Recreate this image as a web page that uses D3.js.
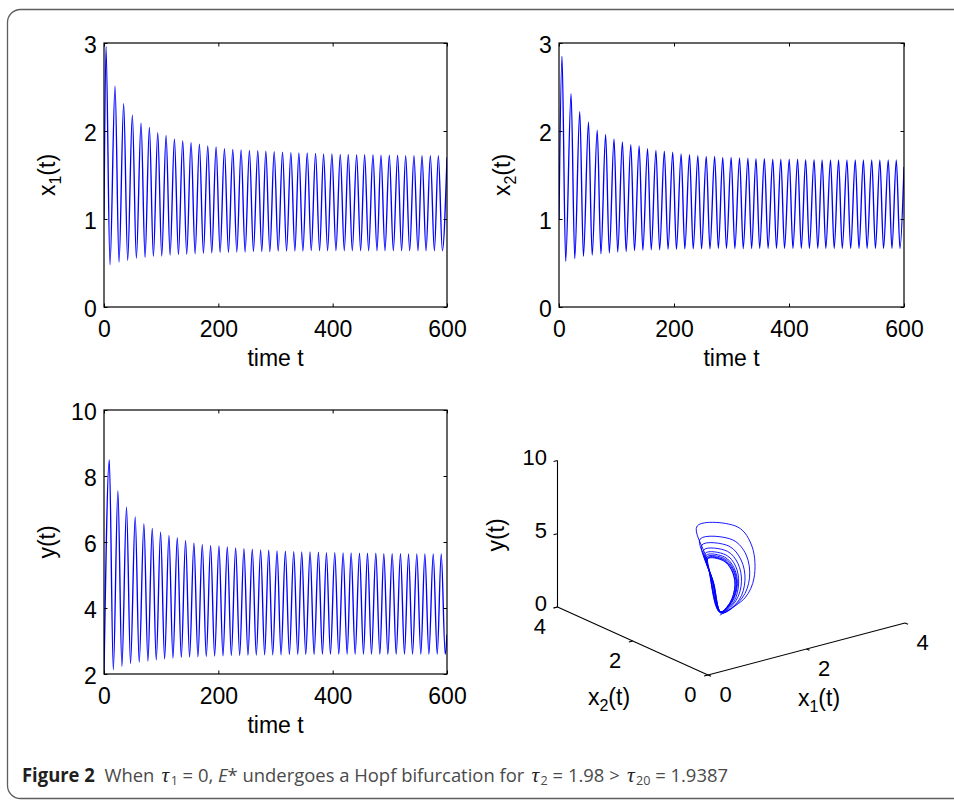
<!DOCTYPE html>
<html>
<head>
<meta charset="utf-8">
<script src="https://cdn.jsdelivr.net/npm/d3@7"></script>
<style>
body { margin: 0; background: #fff; }
svg { display: block; }
</style>
</head>
<body>
<svg id="fig" width="954" height="800"></svg>
<script>
// ---- time series (extrema of each oscillation) ----
var x1Start = 1.0, x1End = 1.70;
var x1PeakT = [3.5, 19.3, 34.4, 49.6, 64.8, 79.4, 94.0, 108.6, 123.2, 137.7, 152.3, 166.9, 181.5, 196.1, 210.7, 225.3, 239.8, 254.4, 269.0, 283.1, 297.7, 312.3, 326.9, 340.9, 355.5, 370.1, 384.1, 398.7, 413.3, 427.3, 441.9, 455.9, 470.5, 484.5, 499.1, 513.6, 527.7, 542.2, 556.3, 570.9, 584.9];
var x1PeakV = [2.96, 2.51, 2.31, 2.18, 2.09, 2.04, 1.98, 1.95, 1.91, 1.89, 1.87, 1.85, 1.83, 1.82, 1.80, 1.79, 1.785, 1.78, 1.775, 1.77, 1.765, 1.76, 1.755, 1.75, 1.75, 1.745, 1.74, 1.74, 1.735, 1.735, 1.73, 1.73, 1.73, 1.725, 1.725, 1.725, 1.72, 1.72, 1.72, 1.72, 1.72];
var x1TroughT = [10.5, 26.3, 41.4, 56.6, 71.8, 86.4, 101.0, 115.6, 130.2, 144.7, 159.3, 173.9, 188.5, 203.1, 217.7, 232.3, 246.8, 261.4, 276.0, 290.1, 304.7, 319.3, 333.9, 347.9, 362.5, 377.1, 391.1, 405.7, 420.3, 434.3, 448.9, 462.9, 477.5, 491.5, 506.1, 520.6, 534.7, 549.2, 563.3, 577.9, 591.9];
var x1TroughV = [0.48, 0.51, 0.53, 0.555, 0.565, 0.575, 0.58, 0.59, 0.595, 0.60, 0.605, 0.61, 0.615, 0.62, 0.62, 0.625, 0.625, 0.63, 0.63, 0.63, 0.635, 0.635, 0.635, 0.635, 0.64, 0.64, 0.64, 0.64, 0.64, 0.64, 0.64, 0.64, 0.64, 0.64, 0.64, 0.64, 0.64, 0.64, 0.64, 0.64, 0.64];

var x2Start = 1.0, x2End = 1.59;
var x2PeakT = [5.2, 21.0, 36.1, 51.3, 66.5, 81.1, 95.7, 110.3, 124.9, 139.4, 154.0, 168.6, 183.2, 197.8, 212.4, 227.0, 241.5, 256.1, 270.7, 284.8, 299.4, 314.0, 328.6, 342.6, 357.2, 371.8, 385.8, 400.4, 415.0, 429.0, 443.6, 457.6, 472.2, 486.2, 500.8, 515.3, 529.4, 543.9, 558.0, 572.6, 586.6];
var x2PeakV = [2.85, 2.42, 2.22, 2.10, 2.01, 1.96, 1.91, 1.875, 1.845, 1.83, 1.80, 1.78, 1.77, 1.76, 1.74, 1.73, 1.72, 1.71, 1.71, 1.70, 1.70, 1.695, 1.69, 1.685, 1.685, 1.68, 1.68, 1.68, 1.68, 1.675, 1.675, 1.67, 1.67, 1.67, 1.67, 1.67, 1.67, 1.67, 1.67, 1.67, 1.67];
var x2TroughT = [11.6, 27.4, 42.5, 57.7, 72.9, 87.5, 102.1, 116.7, 131.3, 145.8, 160.4, 175.0, 189.6, 204.2, 218.8, 233.4, 247.9, 262.5, 277.1, 291.2, 305.8, 320.4, 335.0, 349.0, 363.6, 378.2, 392.2, 406.8, 421.4, 435.4, 450.0, 464.0, 478.6, 492.6, 507.2, 521.7, 535.8, 550.3, 564.4, 579.0, 593.0];
var x2TroughV = [0.52, 0.55, 0.575, 0.59, 0.605, 0.615, 0.625, 0.63, 0.64, 0.645, 0.65, 0.65, 0.655, 0.655, 0.66, 0.66, 0.66, 0.66, 0.665, 0.665, 0.665, 0.665, 0.665, 0.665, 0.665, 0.665, 0.665, 0.665, 0.665, 0.665, 0.665, 0.665, 0.665, 0.665, 0.665, 0.665, 0.665, 0.665, 0.665, 0.665, 0.665];

var yStart = 2.0, yEnd = 3.2;
var yPeakT = [9.3, 24.3, 39.4, 54.6, 69.8, 84.4, 99.0, 113.6, 128.2, 142.7, 157.3, 171.9, 186.5, 201.1, 215.7, 230.3, 244.8, 259.4, 274.0, 288.1, 302.7, 317.3, 331.9, 345.9, 360.5, 375.1, 389.1, 403.7, 418.3, 432.3, 446.9, 460.9, 475.5, 489.5, 504.1, 518.6, 532.7, 547.2, 561.3, 575.9, 589.9];
var yPeakV = [8.49, 7.55, 7.06, 6.76, 6.55, 6.41, 6.30, 6.20, 6.13, 6.05, 5.97, 5.93, 5.90, 5.88, 5.85, 5.82, 5.80, 5.78, 5.76, 5.75, 5.73, 5.72, 5.71, 5.70, 5.70, 5.69, 5.68, 5.68, 5.67, 5.67, 5.66, 5.66, 5.66, 5.65, 5.65, 5.65, 5.64, 5.64, 5.64, 5.64, 5.64];
var yTroughT = [16.3, 31.3, 46.4, 61.6, 76.8, 91.4, 106.0, 120.6, 135.2, 149.7, 164.3, 178.9, 193.5, 208.1, 222.7, 237.3, 251.8, 266.4, 281.0, 295.1, 309.7, 324.3, 338.9, 352.9, 367.5, 382.1, 396.1, 410.7, 425.3, 439.3, 453.9, 467.9, 482.5, 496.5, 511.1, 525.6, 539.7, 554.2, 568.3, 582.9, 596.9];
var yTroughV = [2.13, 2.23, 2.32, 2.36, 2.39, 2.43, 2.46, 2.48, 2.50, 2.51, 2.52, 2.53, 2.54, 2.55, 2.56, 2.56, 2.57, 2.57, 2.58, 2.58, 2.58, 2.59, 2.59, 2.59, 2.59, 2.60, 2.60, 2.60, 2.60, 2.60, 2.60, 2.60, 2.60, 2.60, 2.60, 2.60, 2.60, 2.60, 2.60, 2.60, 2.60];

var phX1 = [1.02, 1.62, 1.89, 2.12, 1.67, 0.56, 0.76,
            1.05, 1.54, 1.79, 1.86, 1.49, 0.62, 0.79,
            1.01, 1.40, 1.63, 1.65, 1.39, 0.68, 0.79,
            0.98, 1.29, 1.52, 1.54, 1.31, 0.77, 0.85,
            0.94, 1.21, 1.44, 1.46, 1.25, 0.84, 0.90,
            0.91, 1.16, 1.40, 1.41, 1.21, 0.88, 0.93,
            0.90, 1.13, 1.37, 1.38, 1.19, 0.91, 0.94,
            0.89, 1.11, 1.35, 1.36, 1.17, 0.93, 0.96,
            0.88, 1.09, 1.33, 1.34, 1.16, 0.94, 0.96,
            0.87, 1.08, 1.32, 1.33, 1.15, 0.95, 0.97,
            0.87, 1.08];
var phX2 = [1.02, 1.14, 1.25, 1.60, 1.39, 1.02, 1.02,
            1.04, 1.11, 1.24, 1.42, 1.29, 1.02, 1.04,
            0.98, 1.01, 1.15, 1.28, 1.26, 1.05, 1.01,
            0.95, 0.95, 1.10, 1.22, 1.20, 1.12, 1.05,
            0.90, 0.90, 1.07, 1.18, 1.16, 1.17, 1.07,
            0.86, 0.88, 1.05, 1.16, 1.14, 1.20, 1.09,
            0.84, 0.86, 1.03, 1.14, 1.12, 1.22, 1.10,
            0.82, 0.84, 1.02, 1.13, 1.11, 1.23, 1.10,
            0.81, 0.84, 1.02, 1.13, 1.11, 1.24, 1.11,
            0.81, 0.83, 1.01, 1.12, 1.10, 1.25, 1.11,
            0.80, 0.83];
var phY  = [2.00, 2.50, 3.50, 5.00, 7.00, 8.49, 6.00,
            2.10, 2.60, 3.60, 4.90, 6.40, 7.55, 5.60,
            2.20, 2.70, 3.70, 4.90, 6.10, 7.06, 5.30,
            2.30, 2.81, 3.74, 4.83, 5.89, 6.56, 4.85,
            2.41, 2.88, 3.76, 4.78, 5.74, 6.21, 4.52,
            2.48, 2.93, 3.78, 4.75, 5.65, 6.00, 4.33,
            2.53, 2.96, 3.79, 4.73, 5.59, 5.85, 4.20,
            2.56, 2.98, 3.79, 4.72, 5.55, 5.75, 4.10,
            2.58, 2.99, 3.80, 4.71, 5.52, 5.70, 4.05,
            2.59, 3.00, 3.80, 4.70, 5.50, 5.64, 4.00,
            2.60, 3.00];

var timeTicks = [0, 200, 400, 600];
var x1Ticks = [0, 1, 2, 3];
var x2Ticks = [0, 1, 2, 3];
var yTicks = [2, 4, 6, 8, 10];
var cubeTicks = [0, 2, 4];
var cubeYTicks = [0, 5, 10];

var svg = d3.select('#fig');
var axisFont = '"Liberation Sans", Arial, Helvetica, sans-serif';
var fontSize = 23;
var cubeFont = 22;
var lineBlue = '#0000ff';

// outer rounded frame of the figure
svg.append('rect')
    .attr('x', 7.5).attr('y', 9.5)
    .attr('width', 1000).attr('height', 789)
    .attr('rx', 13)
    .attr('fill', 'none')
    .attr('stroke', '#5e5e5e')
    .attr('stroke-width', 1.3);

var merge_series = function(start, peakT, peakV, troughT, troughV, end) {
    var pts = [[0, start]];
    peakT.forEach(function(t, i) { pts.push([t, peakV[i]]); });
    troughT.forEach(function(t, i) { pts.push([t, troughV[i]]); });
    pts.push([600, end]);
    pts.sort(function(a, b) { return a[0] - b[0]; });
    return pts;
};

var style_axis = function(sel) {
    sel.select('.domain').remove();
    sel.attr('font-size', fontSize).attr('font-family', axisFont);
    sel.selectAll('.tick line').attr('stroke', '#000').attr('stroke-width', 1);
    sel.selectAll('.tick text').attr('fill', '#000');
};

var add_label = function(g, x, y, main, sub, rest, rotate) {
    var t = g.append('text')
        .attr('font-family', axisFont)
        .attr('font-size', fontSize)
        .attr('text-anchor', 'middle')
        .attr('transform', 'translate(' + x + ',' + y + ')' + (rotate ? ' rotate(-90)' : ''));
    t.append('tspan').text(main);
    if (sub) {
        t.append('tspan').attr('font-size', 16).attr('dy', 6).text(sub);
        t.append('tspan').attr('dy', -6).text(rest);
    } else {
        t.append('tspan').text(rest);
    }
};

var time_panel = function(box, yDomain, yTickVals, pts, lab, id) {
    var x = d3.scaleLinear().domain([0, 600]).range([box.left, box.right]);
    var y = d3.scaleLinear().domain(yDomain).range([box.bottom, box.top]);
    var g = svg.append('g');

    g.append('clipPath').attr('id', id).append('rect')
        .attr('x', box.left).attr('y', box.top)
        .attr('width', box.right - box.left).attr('height', box.bottom - box.top);

    var line_func = d3.line()
        .x(function(d) { return x(d[0]); })
        .y(function(d) { return y(d[1]); })
        .curve(d3.curveMonotoneX);

    g.append('path')
        .attr('d', line_func(pts))
        .attr('clip-path', 'url(#' + id + ')')
        .attr('fill', 'none')
        .attr('stroke', lineBlue)
        .attr('stroke-width', 1.35);

    g.append('rect')
        .attr('x', box.left).attr('y', box.top)
        .attr('width', box.right - box.left).attr('height', box.bottom - box.top)
        .attr('fill', 'none').attr('stroke', '#000').attr('stroke-width', 1.2);

    // ticks point inwards on all four sides, labels only bottom / left
    g.append('g').attr('transform', 'translate(0,' + box.bottom + ')')
        .call(d3.axisBottom(x).tickValues(timeTicks).tickSize(-3.5).tickPadding(13.7).tickFormat(d3.format('d')))
        .call(style_axis);
    g.append('g').attr('transform', 'translate(0,' + box.top + ')')
        .call(d3.axisTop(x).tickValues(timeTicks).tickSize(-3.5).tickFormat(''))
        .call(style_axis);
    g.append('g').attr('transform', 'translate(' + box.left + ',0)')
        .call(d3.axisLeft(y).tickValues(yTickVals).tickSize(-3.5).tickPadding(7.3).tickFormat(d3.format('d')))
        .call(style_axis)
        .call(function(s) { s.selectAll('.tick text').attr('dy', '0.4em'); });
    g.append('g').attr('transform', 'translate(' + box.right + ',0)')
        .call(d3.axisRight(y).tickValues(yTickVals).tickSize(-3.5).tickFormat(''))
        .call(style_axis);

    add_label(g, (box.left + box.right) / 2, box.bottom + 59, 'time t', null, '', false);
    add_label(g, box.left - 49, (box.top + box.bottom) / 2, lab[0], lab[1], lab[2], true);
};

time_panel({left: 104, right: 447, top: 43, bottom: 307}, [0, 3], x1Ticks,
    merge_series(x1Start, x1PeakT, x1PeakV, x1TroughT, x1TroughV, x1End), ['x', '1', '(t)'], 'clip1');
time_panel({left: 559, right: 904, top: 43, bottom: 307}, [0, 3], x2Ticks,
    merge_series(x2Start, x2PeakT, x2PeakV, x2TroughT, x2TroughV, x2End), ['x', '2', '(t)'], 'clip2');
time_panel({left: 104, right: 447, top: 410, bottom: 674}, [2, 10], yTicks,
    merge_series(yStart, yPeakT, yPeakV, yTroughT, yTroughV, yEnd), ['y(t)', null, ''], 'clip3');

// ---- 3D phase portrait, oblique projection built from three axis scales ----
var origin = [708, 675];
var sx1 = d3.scaleLinear().domain([0, 4]).range([[708, 675], [905, 623]]);
var sx2 = d3.scaleLinear().domain([0, 4]).range([[708, 675], [557.5, 607]]);
var sy3 = d3.scaleLinear().domain([0, 10]).range([0, -146.5]);
var proj = function(a, b, c) {
    var p = sx1(a), q = sx2(b);
    return [p[0] + q[0] - origin[0], p[1] + q[1] - origin[1] + sy3(c)];
};

var g3 = svg.append('g');
var seg = function(p, q) {
    g3.append('line')
        .attr('x1', p[0]).attr('y1', p[1]).attr('x2', q[0]).attr('y2', q[1])
        .attr('stroke', '#000').attr('stroke-width', 1.1);
};
seg(proj(0, 0, 0), proj(4, 0, 0));
seg(proj(0, 0, 0), proj(0, 4, 0));
seg(proj(0, 4, 0), proj(0, 4, 10));

var tick_text = function(p, dx, dy, anchor, s) {
    g3.append('text')
        .attr('x', p[0] + dx).attr('y', p[1] + dy)
        .attr('dy', '0.35em')
        .attr('text-anchor', anchor)
        .attr('font-family', axisFont).attr('font-size', cubeFont)
        .text(s);
};
cubeTicks.forEach(function(v) {
    seg(proj(v, 0, 0), proj(v, -0.08, 0));
    tick_text(proj(v, 0, 0), 17.6, 19.2, 'middle', v);
    seg(proj(0, v, 0), proj(-0.08, v, 0));
    tick_text(proj(0, v, 0), -17.7, 19, 'middle', v);
});
cubeYTicks.forEach(function(v) {
    seg(proj(0, 4, v), proj(-0.08, 4, v));
    tick_text(proj(0, 4, v), -10.5, -3.6, 'end', v);
});

add_label(g3, 609, 705, 'x', '2', '(t)', false);
add_label(g3, 819, 706, 'x', '1', '(t)', false);
add_label(g3, 504, 535, 'y(t)', null, '', true);

var phase = phX1.map(function(a, i) { return proj(a, phX2[i], phY[i]); });
g3.append('path')
    .attr('d', d3.line().curve(d3.curveCatmullRom.alpha(0.5))(phase))
    .attr('fill', 'none')
    .attr('stroke', lineBlue)
    .attr('stroke-width', 0.9);

// ---- caption ----
var cap = svg.append('text')
    .attr('x', 22).attr('y', 781.5)
    .attr('font-family', '"Open Sans", "Noto Sans", sans-serif')
    .attr('font-size', 19)
    .attr('fill', '#4a4a4a')
    .attr('textLength', 706)
    .attr('lengthAdjust', 'spacingAndGlyphs')
    .style('white-space', 'pre');
var greek = '"Liberation Serif", "DejaVu Serif", serif';
var add_tau = function(sub) {
    cap.append('tspan').attr('font-family', greek).attr('font-style', 'italic')
        .attr('font-size', 22).attr('fill', '#231f20').attr('dx', 2.5).text('τ');
    cap.append('tspan').attr('font-size', 13).attr('dx', 1.5).attr('dy', 3).text(sub);
};
cap.append('tspan').attr('font-weight', 700).attr('fill', '#231f20').text('Figure 2');
cap.append('tspan').text('  When ');
add_tau('1');
cap.append('tspan').attr('dy', -3).text(' = 0, ');
cap.append('tspan').attr('font-style', 'italic').text('E');
cap.append('tspan').text('* undergoes a Hopf bifurcation for ');
add_tau('2');
cap.append('tspan').attr('dy', -3).text(' = 1.98 > ');
add_tau('20');
cap.append('tspan').attr('dy', -3).text(' = 1.9387');
</script>
</body>
</html>
